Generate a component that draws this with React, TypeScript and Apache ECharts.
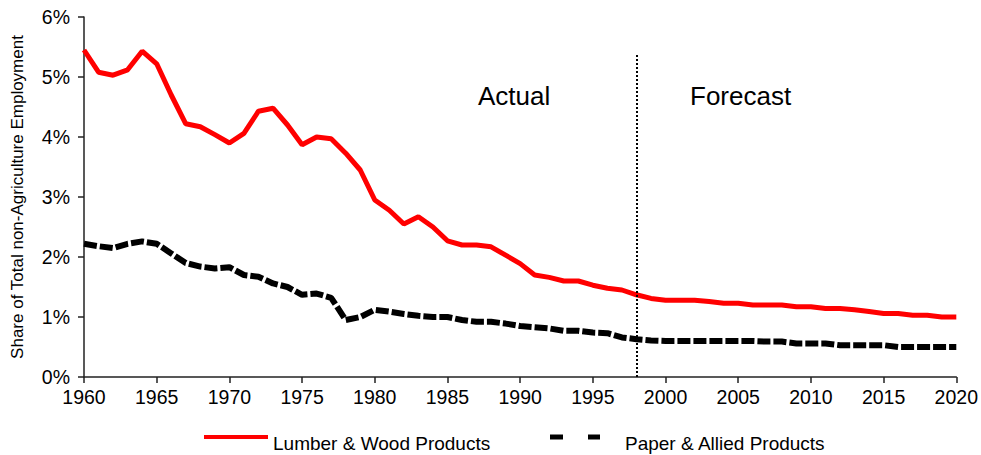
import React, { useEffect, useRef } from "react";
import * as echarts from "echarts";

const years: number[] = [];
for (let y = 1960; y <= 2020; y++) years.push(y);

const lumber = [
  5.45, 5.08, 5.03, 5.12, 5.43, 5.22, 4.7, 4.22, 4.17, 4.04,
  3.9, 4.06, 4.43, 4.48, 4.2, 3.87, 4.0, 3.97, 3.73, 3.45,
  2.95, 2.78, 2.55, 2.67, 2.5, 2.27, 2.2, 2.2, 2.17, 2.03,
  1.89, 1.7, 1.66, 1.6, 1.6, 1.53, 1.48, 1.45, 1.37, 1.31,
  1.28, 1.28, 1.28, 1.26, 1.23, 1.23, 1.2, 1.2, 1.2, 1.17,
  1.17, 1.14, 1.14, 1.12, 1.09, 1.06, 1.06, 1.03, 1.03, 1.0,
  1.0,
];

const paper = [
  2.22, 2.18, 2.15, 2.22, 2.26, 2.22, 2.06, 1.9, 1.84, 1.81,
  1.83, 1.7, 1.67, 1.56, 1.5, 1.37, 1.39, 1.32, 0.95, 1.0,
  1.12, 1.09, 1.05, 1.02, 1.0, 1.0, 0.95, 0.92, 0.92, 0.89,
  0.85, 0.83, 0.81, 0.77, 0.77, 0.74, 0.73, 0.66, 0.63, 0.61,
  0.6, 0.6, 0.6, 0.6, 0.6, 0.6, 0.6, 0.59, 0.59, 0.56,
  0.56, 0.56, 0.53, 0.53, 0.53, 0.53, 0.5, 0.5, 0.5, 0.5,
  0.5,
];

const seriesNames = ["Lumber & Wood Products", "Paper & Allied Products"];
const periodLabels = ["Actual", "Forecast"];
const dividerYear = 1998;
const dividerTop = 5.4;

export default function App() {
  const ref = useRef<HTMLDivElement>(null);
  useEffect(() => {
    if (!ref.current) return;
    const chart = echarts.init(ref.current, null, { renderer: "svg" });
    const font = "Liberation Sans, Arial, sans-serif";
    chart.setOption({
      animation: false,
      backgroundColor: "#ffffff",
      grid: { left: 84, right: 23, top: 17, bottom: 78, containLabel: false },
      xAxis: {
        type: "value",
        min: 1960,
        max: 2020,
        interval: 5,
        axisLine: { lineStyle: { color: "#222", width: 1.5 } },
        axisTick: { show: true, inside: false, length: 6, lineStyle: { color: "#222", width: 1.5 } },
        axisLabel: {
          color: "#000",
          fontSize: 19.5,
          fontFamily: font,
          margin: 10,
          formatter: (v: number) => String(v),
        },
        splitLine: { show: false },
      },
      yAxis: {
        type: "value",
        min: 0,
        max: 6,
        interval: 1,
        name: "Share of Total non-Agriculture Employment",
        nameLocation: "middle",
        nameGap: 58,
        nameTextStyle: { color: "#000", fontSize: 17, fontFamily: font },
        axisLine: { show: true, lineStyle: { color: "#222", width: 1.5 } },
        axisTick: { show: true, inside: false, length: 6, lineStyle: { color: "#222", width: 1.5 } },
        axisLabel: { color: "#000", fontSize: 19.5, fontFamily: font, formatter: "{value}%", margin: 14 },
        splitLine: { show: false },
      },
      series: [
        {
          name: seriesNames[0],
          type: "line",
          data: years.map((y, i) => [y, lumber[i]]),
          showSymbol: false,
          lineStyle: { color: "#ff0000", width: 5 },
          z: 3,
          markLine: {
            silent: true,
            symbol: ["none", "none"],
            label: { show: false },
            lineStyle: { color: "#000", width: 2, type: [2, 2] },
            data: [[{ coord: [dividerYear, 0] }, { coord: [dividerYear, dividerTop] }]],
          },
        },
        {
          name: seriesNames[1],
          type: "line",
          data: years.map((y, i) => [y, paper[i]]),
          showSymbol: false,
          lineStyle: { color: "#000", width: 6, type: [13, 3] },
          z: 2,
        },
      ],
      graphic: [
        { type: "text", x: 478, y: 96, style: { text: periodLabels[0], fontSize: 26, fontFamily: font, fill: "#000", verticalAlign: "middle" } },
        { type: "text", x: 690, y: 96, style: { text: periodLabels[1], fontSize: 26, fontFamily: font, fill: "#000", verticalAlign: "middle" } },
        { type: "line", shape: { x1: 204, y1: 437, x2: 268, y2: 437 }, style: { stroke: "#ff0000", lineWidth: 4 } },
        { type: "text", x: 273, y: 443, style: { text: seriesNames[0], fontSize: 19, fontFamily: font, fill: "#000", verticalAlign: "middle" } },
        { type: "rect", shape: { x: 550, y: 434.5, width: 13, height: 5 }, style: { fill: "#000" } },
        { type: "rect", shape: { x: 588, y: 434.5, width: 12, height: 5 }, style: { fill: "#000" } },
        { type: "text", x: 625, y: 443, style: { text: seriesNames[1], fontSize: 19, fontFamily: font, fill: "#000", verticalAlign: "middle" } },
      ],
    });
    return () => chart.dispose();
  }, []);
  return <div ref={ref} style={{ width: 981, height: 455, position: "absolute", left: 0, top: 0 }} />;
}
